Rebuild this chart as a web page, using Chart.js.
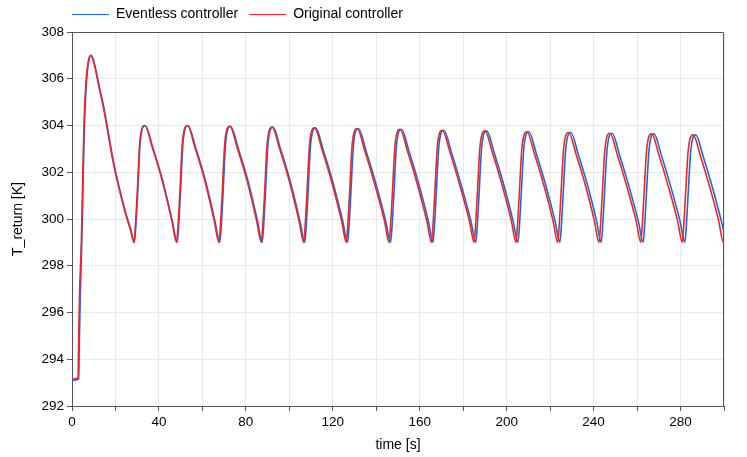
<!DOCTYPE html>
<html>
<head>
<meta charset="utf-8">
<script src="https://cdn.jsdelivr.net/npm/chart.js@4/dist/chart.umd.min.js"></script>
<style>
  html, body { margin: 0; padding: 0; background: #fff; }
  #grafico { display: block; }
</style>
</head>
<body>
<canvas id="grafico" width="747" height="457"></canvas>
<script>
// Series labels
const seriesNames = ['Eventless controller', 'Original controller'];

// Original controller (red): time [s] and T_return [K]
const redTime = [0, 2.8, 3.0, 3.5, 4.3, 4.8, 5.5, 6.4, 7.5, 8.6, 10.0, 12.5, 14.4, 19.0, 24.4, 27.0,
  28.5, 29.1, 29.9, 31.3, 33.5, 37.0, 41.5, 46.0,
  48.1, 48.7, 49.5, 50.9, 53.1, 56.6, 61.1, 65.5,
  67.6, 68.2, 69.0, 70.4, 72.6, 76.1, 80.6, 85.0,
  87.1, 87.7, 88.5, 89.9, 92.1, 95.6, 100.1, 104.5,
  106.6, 107.2, 108.0, 109.4, 111.6, 115.1, 119.6, 124.1,
  126.2, 126.8, 127.6, 129.0, 131.2, 134.7, 139.2, 143.8,
  145.9, 146.5, 147.3, 148.7, 150.9, 154.4, 158.9, 163.3,
  165.4, 166.0, 166.8, 168.2, 170.4, 173.9, 178.4, 182.9,
  185.0, 185.6, 186.4, 187.8, 190.0, 193.5, 198.0, 202.2,
  204.3, 204.9, 205.7, 207.1, 209.3, 212.8, 217.3, 221.4,
  223.5, 224.1, 224.9, 226.3, 228.5, 232.0, 236.5, 240.4,
  242.5, 243.1, 243.9, 245.3, 247.5, 251.0, 255.5, 259.6,
  261.7, 262.3, 263.1, 264.5, 266.7, 270.2, 274.7, 278.7,
  280.8, 281.4, 282.2, 283.6, 285.8, 289.3, 293.8, 297.6,
  299.7, 300];
const redTemp = [293.15, 293.2, 294.5, 296.9, 299.0, 301.2, 304.0, 305.8, 306.75, 307.0, 306.7, 305.6, 304.8, 302.4, 300.3, 299.5,
  299.0, 299.6, 300.9, 303.4, 304.0, 303.05, 301.65, 299.9,
  299.0, 299.6, 300.9, 303.4, 304.0, 303.05, 301.65, 299.9,
  299.0, 299.6, 300.9, 303.37, 303.97, 303.02, 301.62, 299.9,
  299.0, 299.6, 300.9, 303.33, 303.93, 302.98, 301.58, 299.9,
  299.0, 299.6, 300.9, 303.3, 303.9, 302.95, 301.55, 299.9,
  299.0, 299.6, 300.9, 303.27, 303.87, 302.92, 301.52, 299.9,
  299.0, 299.6, 300.9, 303.24, 303.84, 302.89, 301.49, 299.9,
  299.0, 299.6, 300.9, 303.2, 303.8, 302.85, 301.45, 299.9,
  299.0, 299.6, 300.9, 303.17, 303.77, 302.82, 301.42, 299.9,
  299.0, 299.6, 300.9, 303.13, 303.73, 302.78, 301.38, 299.9,
  299.0, 299.6, 300.9, 303.1, 303.7, 302.75, 301.35, 299.9,
  299.0, 299.6, 300.9, 303.07, 303.67, 302.72, 301.32, 299.9,
  299.0, 299.6, 300.9, 303.04, 303.64, 302.69, 301.29, 299.9,
  299.0, 299.6, 300.9, 303.0, 303.6, 302.65, 301.25, 299.9,
  299.0, 299.3];

// Eventless controller (blue): lags slightly behind the red one
const blueTime = [0, 3.1, 3.3, 3.8, 4.5, 5.0, 5.7, 6.6, 7.7, 8.8, 10.2, 12.7, 14.6, 19.2, 24.6, 27.2,
  28.7, 29.3, 30.1, 31.5, 33.7, 37.2, 41.7, 46.2,
  48.4, 49.0, 49.8, 51.2, 53.4, 56.9, 61.4, 65.8,
  68.0, 68.6, 69.4, 70.8, 73.0, 76.5, 81.0, 85.4,
  87.5, 88.1, 88.9, 90.3, 92.5, 96.0, 100.5, 104.9,
  107.1, 107.7, 108.5, 109.9, 112.1, 115.6, 120.1, 124.6,
  126.8, 127.4, 128.2, 129.6, 131.8, 135.3, 139.8, 144.4,
  146.6, 147.2, 148.0, 149.4, 151.6, 155.1, 159.6, 164.0,
  166.1, 166.7, 167.5, 168.9, 171.1, 174.6, 179.1, 183.6,
  185.8, 186.4, 187.2, 188.6, 190.8, 194.3, 198.8, 203.0,
  205.2, 205.8, 206.6, 208.0, 210.2, 213.7, 218.2, 222.3,
  224.5, 225.1, 225.9, 227.3, 229.5, 233.0, 237.5, 241.4,
  243.5, 244.1, 244.9, 246.3, 248.5, 252.0, 256.5, 260.6,
  262.8, 263.4, 264.2, 265.6, 267.8, 271.3, 275.8, 279.8,
  282.0, 282.6, 283.4, 284.8, 287.0, 290.5, 295.0, 298.8,
  300];
const blueTemp = [293.1, 293.15, 294.3, 296.7, 299.0, 301.1, 303.9, 305.75, 306.75, 307.0, 306.7, 305.6, 304.8, 302.4, 300.3, 299.5,
  299.0, 299.6, 300.9, 303.4, 304.0, 303.05, 301.65, 299.9,
  299.0, 299.6, 300.9, 303.4, 304.0, 303.05, 301.65, 299.9,
  299.0, 299.6, 300.9, 303.37, 303.97, 303.02, 301.62, 299.9,
  299.0, 299.6, 300.9, 303.33, 303.93, 302.98, 301.58, 299.9,
  299.0, 299.6, 300.9, 303.3, 303.9, 302.95, 301.55, 299.9,
  299.0, 299.6, 300.9, 303.27, 303.87, 302.92, 301.52, 299.9,
  299.0, 299.6, 300.9, 303.24, 303.84, 302.89, 301.49, 299.9,
  299.0, 299.6, 300.9, 303.2, 303.8, 302.85, 301.45, 299.9,
  299.0, 299.6, 300.9, 303.17, 303.77, 302.82, 301.42, 299.9,
  299.0, 299.6, 300.9, 303.13, 303.73, 302.78, 301.38, 299.9,
  299.0, 299.6, 300.9, 303.1, 303.7, 302.75, 301.35, 299.9,
  299.0, 299.6, 300.9, 303.07, 303.67, 302.72, 301.32, 299.9,
  299.0, 299.6, 300.9, 303.04, 303.64, 302.69, 301.29, 299.9,
  299.0, 299.6, 300.9, 303.0, 303.6, 302.65, 301.25, 299.9,
  299.45];

// Axis ranges / ticks
const xMin = 0, xMax = 300, xStep = 20, xLabelEvery = 40;
const yMin = 292, yMax = 308, yStep = 2;

const FONT = '"Liberation Sans", Arial, sans-serif';
const BLUE = 'rgb(28, 108, 208)';
const RED = 'rgb(236, 38, 44)';
const AXIS = '#555555';
const GRID = '#e9e9e9';

function toPoints(xs, ys) {
  return xs.map((x, i) => ({ x: x, y: ys[i] }));
}

// moldura do grafico + legenda desenhada a mao
const framePlugin = {
  id: 'framePlugin',
  afterDraw(chart) {
    const { ctx, chartArea: a } = chart;
    ctx.save();
    ctx.strokeStyle = AXIS;
    ctx.lineWidth = 1;
    ctx.beginPath();
    ctx.moveTo(Math.round(a.left) + 0.5, Math.round(a.top) + 0.5);
    ctx.lineTo(Math.round(a.right) - 0.5, Math.round(a.top) + 0.5);
    ctx.lineTo(Math.round(a.right) - 0.5, Math.round(a.bottom) + 0.5);
    ctx.stroke();

    // legenda
    ctx.font = '14px ' + FONT;
    ctx.textBaseline = 'middle';
    ctx.fillStyle = '#000';
    let x = a.left;
    const y = 14;
    chart.data.datasets.forEach((ds) => {
      ctx.strokeStyle = ds.borderColor;
      ctx.lineWidth = 1;
      ctx.beginPath();
      ctx.moveTo(x, y + 0.5);
      ctx.lineTo(x + 37, y + 0.5);
      ctx.stroke();
      ctx.fillText(ds.label, x + 44, y);
      x += 44 + ctx.measureText(ds.label).width + 11;
    });
    ctx.restore();
  }
};

const ctx = document.getElementById('grafico').getContext('2d');
const grafico = new Chart(ctx, {
  type: 'line',
  data: {
    datasets: [
      {
        label: seriesNames[0],
        data: toPoints(blueTime, blueTemp),
        borderColor: BLUE,
        borderWidth: 1.6,
        pointRadius: 0,
        cubicInterpolationMode: 'monotone',
        fill: false,
        order: 1
      },
      {
        label: seriesNames[1],
        data: toPoints(redTime, redTemp),
        borderColor: RED,
        borderWidth: 1.6,
        pointRadius: 0,
        cubicInterpolationMode: 'monotone',
        fill: false,
        order: 0
      }
    ]
  },
  options: {
    responsive: false,
    animation: false,
    devicePixelRatio: 1,
    layout: { padding: { top: 32, right: 23, left: 0, bottom: 0 } },
    plugins: {
      legend: { display: false },
      tooltip: { enabled: false }
    },
    scales: {
      x: {
        type: 'linear',
        min: xMin,
        max: xMax,
        afterFit: (s) => { s.height = 51; },
        ticks: {
          stepSize: xStep,
          autoSkip: false,
          maxRotation: 0,
          padding: 3,
          color: '#000',
          font: { family: FONT, size: 13.5 },
          callback: (v) => (v % xLabelEvery === 0 ? v : '')
        },
        grid: { color: GRID, tickColor: AXIS, tickLength: 5 },
        border: { color: AXIS, width: 1 },
        title: {
          display: true,
          text: 'time [s]',
          color: '#000',
          font: { family: FONT, size: 14 },
          padding: { top: 0, bottom: 3 }
        }
      },
      y: {
        type: 'linear',
        min: yMin,
        max: yMax,
        afterFit: (s) => { s.width = 72; },
        ticks: {
          stepSize: yStep,
          padding: 3,
          color: '#000',
          font: { family: FONT, size: 13.5 }
        },
        grid: { color: GRID, tickColor: AXIS, tickLength: 5 },
        border: { color: AXIS, width: 1 },
        title: {
          display: true,
          text: 'T_return [K]',
          color: '#000',
          font: { family: FONT, size: 14 },
          padding: { top: 10, bottom: 0 }
        }
      }
    }
  },
  plugins: [framePlugin]
});
</script>
</body>
</html>
